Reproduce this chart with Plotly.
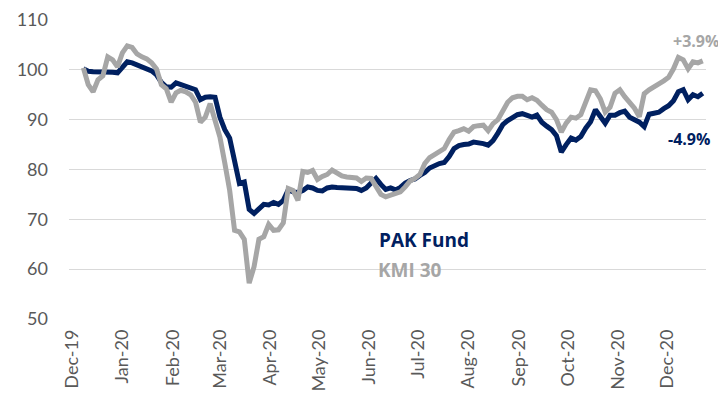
import pandas as pd
import plotly.graph_objects as go

# ---- data (indexed to 100), one reading every 3 days ----
start_date = "2019-12-08"
step = "3D"

pak_fund = [
    100.2, 99.7, 99.6, 99.6, 99.7, 99.6, 99.5, 99.4, 100.5, 101.6,
    101.4, 101.0, 100.8, 100.4, 99.8, 99.0, 97.5, 96.6, 96.5, 97.4,
    97.0, 96.8, 96.3, 96.0, 94.0, 94.5, 94.6, 94.5, 90.5, 88.0,
    86.3, 81.5, 77.2, 77.5, 72.0, 71.2, 72.0, 73.0, 72.9, 73.4,
    73.0, 73.8, 75.9, 75.5, 75.4, 75.8, 76.5, 76.3, 75.8, 75.7,
    76.3, 76.5, 76.4, 76.4, 76.3, 76.3, 76.2, 75.8, 76.3, 77.3,
    78.2, 77.0, 76.0, 76.3, 75.9, 76.4, 77.3, 77.8, 78.1, 78.8,
    79.4, 80.3, 80.8, 81.2, 81.4, 82.6, 84.2, 84.8, 85.0, 85.1,
    85.5, 85.4, 85.2, 84.9, 85.8, 87.3, 89.0, 89.8, 90.5, 91.0,
    91.2, 90.9, 90.5, 90.9, 89.5, 88.7, 88.0, 86.8, 83.5, 85.0,
    86.3, 85.9, 86.6, 88.3, 89.6, 92.0, 90.8, 89.3, 90.9, 90.9,
    91.4, 91.7, 90.5, 90.0, 89.5, 88.6, 91.1, 91.3, 91.5, 92.2,
    92.8, 93.8, 95.6, 96.0, 94.0, 95.0, 94.6, 95.3,
]

kmi_30 = [
    100.4, 97.0, 95.6, 98.0, 98.8, 102.6, 102.0, 100.6, 103.4, 104.8,
    104.5, 103.2, 102.6, 102.2, 101.4, 100.2, 97.0, 96.2, 93.5, 95.4,
    95.9, 95.6, 95.0, 93.5, 89.5, 90.5, 93.2, 90.0, 86.5, 81.3,
    75.8, 67.8, 67.5, 66.0, 57.2, 60.5, 66.0, 66.5, 69.0, 67.8,
    67.9, 69.3, 76.2, 75.8, 73.8, 79.6, 79.4, 79.8, 78.0, 78.6,
    79.0, 79.9, 79.2, 78.7, 78.5, 78.4, 78.3, 77.6, 78.3, 78.2,
    76.5, 75.0, 74.5, 74.8, 75.3, 75.5, 76.5, 77.7, 78.2, 79.0,
    81.2, 82.4, 83.0, 83.7, 84.2, 86.0, 87.5, 87.8, 88.2, 87.7,
    88.6, 88.8, 88.9, 87.8, 89.2, 90.0, 92.0, 93.5, 94.4, 94.7,
    94.7, 94.0, 94.4, 93.9, 92.9, 92.0, 91.5, 90.0, 87.5, 89.3,
    90.5, 90.3, 91.0, 93.3, 96.0, 95.8, 94.2, 91.5, 92.5, 95.3,
    96.0, 94.6, 93.6, 92.3, 90.6, 95.2, 96.0, 96.5, 97.2, 97.8,
    98.5, 100.2, 102.5, 102.0, 100.2, 101.6, 101.4, 101.8,
]

tick_dates = ["2019-12-01", "2020-01-01", "2020-02-01", "2020-03-01", "2020-04-01",
              "2020-05-01", "2020-06-01", "2020-07-01", "2020-08-01", "2020-09-01",
              "2020-10-01", "2020-11-01", "2020-12-01"]
tick_labels = ["Dec-19", "Jan-20", "Feb-20", "Mar-20", "Apr-20", "May-20", "Jun-20",
               "Jul-20", "Aug-20", "Sep-20", "Oct-20", "Nov-20", "Dec-20"]

pak_label = "PAK Fund"
kmi_label = "KMI 30"
pak_return = "-4.9%"
kmi_return = "+3.9%"

dates = pd.date_range(start_date, periods=len(pak_fund), freq=step)

NAVY = "#002060"
GREY = "#A6A6A6"

fig = go.Figure()
fig.add_trace(go.Scatter(x=dates, y=pak_fund, mode="lines", name=pak_label,
                         line=dict(color=NAVY, width=5)))
fig.add_trace(go.Scatter(x=dates, y=kmi_30, mode="lines", name=kmi_label,
                         line=dict(color=GREY, width=5)))

ann_font = "Open Sans"
fig.add_annotation(x=0.985, xref="paper", y=105.8, yref="y", text="<b>" + kmi_return + "</b>",
                   showarrow=False, xanchor="center", yanchor="middle",
                   font=dict(family=ann_font, size=16, color=GREY))
fig.add_annotation(x=0.973, xref="paper", y=86.1, yref="y", text="<b>" + pak_return + "</b>",
                   showarrow=False, xanchor="center", yanchor="middle",
                   font=dict(family=ann_font, size=16, color=NAVY))
fig.add_annotation(x=0.4835, xref="paper", y=65.9, yref="y", text="<b>" + pak_label + "</b>",
                   showarrow=False, xanchor="left", yanchor="middle",
                   font=dict(family=ann_font, size=19, color=NAVY))
fig.add_annotation(x=0.482, xref="paper", y=59.8, yref="y", text="<b>" + kmi_label + "</b>",
                   showarrow=False, xanchor="left", yanchor="middle",
                   font=dict(family=ann_font, size=19, color=GREY))

# page body adds an 8px offset; margins compensate so the plot sits where the reference has it
fig.update_layout(
    width=726, height=405,
    margin=dict(l=61, r=28, t=12, b=94),
    paper_bgcolor="white", plot_bgcolor="white",
    showlegend=False,
    font=dict(family="Lato", color="#595959", size=18),
)
fig.update_xaxes(
    type="date", automargin=False,
    range=["2019-11-29 04:00", "2020-12-25"],
    tickmode="array", tickvals=tick_dates, ticktext=tick_labels,
    tickangle=-90, showgrid=False, showline=False, zeroline=False,
    ticks="", ticklabelstandoff=6,
    tickfont=dict(family="Lato", size=18, color="#595959"),
)
fig.update_yaxes(
    automargin=False,
    range=[50, 110], dtick=10, tick0=50,
    showgrid=True, gridcolor="#D9D9D9", gridwidth=1.3,
    zeroline=False, showline=False, ticks="", ticklabelstandoff=20,
    tickfont=dict(family="Lato", size=18, color="#595959"),
)

fig.write_html("out.html")
